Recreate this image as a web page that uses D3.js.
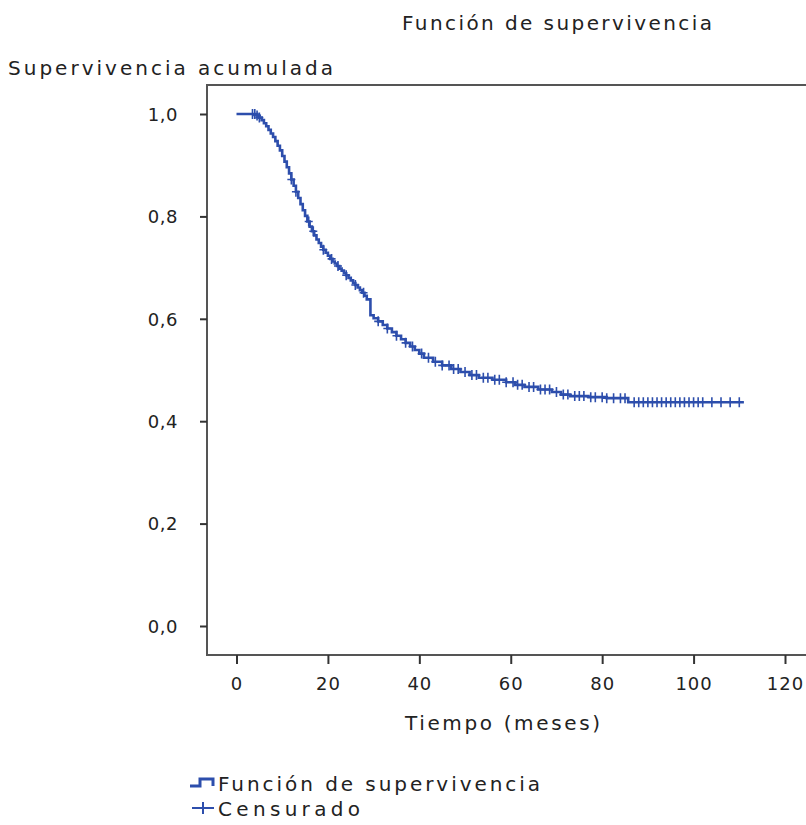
<!DOCTYPE html>
<html>
<head>
<meta charset="utf-8">
<script src="https://cdn.jsdelivr.net/npm/d3@7"></script>
<style>
  body { margin: 0; background: #fff; }
  text { font-family: "DejaVu Sans", Verdana, sans-serif; fill: #222; }
</style>
</head>
<body>
<div id="container"></div>
<script>
// Kaplan-Meier estimate (months, cumulative survival)
let timePoints = [0, 4.5, 5, 5.5, 6, 6.5, 7, 7.5, 8, 8.5, 9, 9.5, 10, 10.5, 11, 11.5, 12, 12.5, 13, 13.5,
    14, 14.5, 15, 15.5, 16, 16.5, 17, 17.5, 18, 18.5, 19, 19.5, 20, 20.5, 21, 21.5, 22, 22.5, 23, 23.5,
    24, 24.5, 25, 25.5, 26, 26.5, 27, 27.5, 28, 28.5, 29.3, 30, 31, 32, 33, 34, 35, 36, 37, 38, 39, 40,
    41, 43, 45, 47, 49, 51, 53, 56, 59, 61, 63, 66, 69, 71, 73, 77, 81, 85.7, 111];
let survival = [1.0, 0.997, 0.993, 0.988, 0.982, 0.976, 0.969, 0.962, 0.955, 0.947, 0.938, 0.929, 0.918, 0.907, 0.896, 0.884, 0.872, 0.86, 0.848, 0.836,
    0.824, 0.812, 0.801, 0.79, 0.78, 0.771, 0.763, 0.755, 0.748, 0.741, 0.735, 0.729, 0.723, 0.717, 0.712, 0.708, 0.703, 0.698, 0.694, 0.689,
    0.685, 0.68, 0.675, 0.67, 0.666, 0.661, 0.656, 0.651, 0.645, 0.638, 0.607, 0.601, 0.595, 0.588, 0.581, 0.574, 0.567, 0.56, 0.553, 0.546, 0.539, 0.532,
    0.524, 0.516, 0.509, 0.502, 0.496, 0.49, 0.485, 0.481, 0.476, 0.471, 0.467, 0.462, 0.457, 0.452, 0.449, 0.447, 0.445, 0.437, 0.437];
let censorTimes = [3.5, 4, 4.5, 5, 12, 13, 15.8, 16.8, 19, 20.8, 22.2, 24, 26, 27.8, 31, 33, 35, 37, 38.5, 40.5,
    42, 43.5, 45, 46.5, 47.5, 48.5, 50, 51.5, 52.5, 54, 55, 56.5, 57.5, 59, 60.5, 61.5, 62.5, 64, 65, 66.5, 67.5,
    68.5, 70, 71.5, 72.5, 74, 75, 76, 77.5, 78.5, 80, 81, 82.5, 84, 85, 87, 88, 89, 90, 91, 92, 93, 94, 95, 96,
    97, 98, 99, 100, 101, 102, 104, 106, 108, 110];
let xTicks = [0, 20, 40, 60, 80, 100, 120];
let yTicks = [0, 0.2, 0.4, 0.6, 0.8, 1.0];

let W = 806, H = 825;
let frame = {left: 207, top: 85, bottom: 655, right: 840};
let blue = "#2d4eac";

let svg = d3.select("#container").append("svg")
    .attr("width", W)
    .attr("height", H);

let x = d3.scaleLinear().domain([0, 120]).range([236.5, 785]);
let y = d3.scaleLinear().domain([0, 1]).range([626, 114]);

let es = d3.formatLocale({decimal: ",", thousands: ".", grouping: [3], currency: ["", "€"]});

// plot frame
svg.append("rect")
    .attr("x", frame.left)
    .attr("y", frame.top)
    .attr("width", frame.right - frame.left)
    .attr("height", frame.bottom - frame.top)
    .style("fill", "none")
    .style("stroke", "#555")
    .style("stroke-width", 2);

// y axis
let yAxis = svg.append("g")
    .attr("transform", "translate(" + frame.left + ",0)")
    .call(d3.axisLeft(y).tickValues(yTicks).tickSize(7).tickPadding(22).tickFormat(es.format(".1f")));
yAxis.select(".domain").remove();
yAxis.selectAll(".tick line").style("stroke", "#333").style("stroke-width", 2);
yAxis.selectAll(".tick text").style("font-size", "18px").style("letter-spacing", "0.5px").attr("dy", "0.35em");

// x axis
let xAxis = svg.append("g")
    .attr("transform", "translate(0," + frame.bottom + ")")
    .call(d3.axisBottom(x).tickValues(xTicks).tickSize(9).tickPadding(13));
xAxis.select(".domain").remove();
xAxis.selectAll(".tick line").style("stroke", "#333").style("stroke-width", 2);
xAxis.selectAll(".tick text").style("font-size", "18px").style("letter-spacing", "1px");

// survival curve
let line = d3.line()
    .x(function(d, i) { return x(timePoints[i]); })
    .y(function(d) { return y(d); })
    .curve(d3.curveStepAfter);

svg.append("path")
    .datum(survival)
    .attr("d", line)
    .style("fill", "none")
    .style("stroke", blue)
    .style("stroke-width", 2.6);

// censored marks
let bisect = d3.bisector(function(d) { return d; }).right;
function survAt(t) {
    let i = Math.max(0, bisect(timePoints, t) - 1);
    return survival[i];
}

let marks = svg.append("g").attr("class", "censored");
marks.selectAll("path")
    .data(censorTimes)
    .enter().append("path")
    .attr("transform", function(d) { return "translate(" + x(d) + "," + y(survAt(d)) + ")"; })
    .attr("d", "M-4,0H4M0,-5V5")
    .style("stroke", blue)
    .style("stroke-width", 1.6);

// texts
svg.append("text")
    .attr("x", 402).attr("y", 30)
    .attr("textLength", 310).attr("lengthAdjust", "spacing")
    .style("font-size", "20px")
    .text("Función de supervivencia");

svg.append("text")
    .attr("x", 8).attr("y", 75)
    .attr("textLength", 325).attr("lengthAdjust", "spacing")
    .style("font-size", "20px")
    .text("Supervivencia acumulada");

svg.append("text")
    .attr("x", 405).attr("y", 730)
    .attr("textLength", 195).attr("lengthAdjust", "spacing")
    .style("font-size", "20px")
    .text("Tiempo (meses)");

// legend
let legend = svg.append("g").attr("class", "legend");

legend.append("path")
    .attr("d", "M190,786H200V779H213V786")
    .style("fill", "none")
    .style("stroke", blue)
    .style("stroke-width", 3);
legend.append("text")
    .attr("x", 218).attr("y", 791)
    .attr("textLength", 322).attr("lengthAdjust", "spacing")
    .style("font-size", "20px")
    .text("Función de supervivencia");

legend.append("path")
    .attr("d", "M192,808H214M203,802V814")
    .style("stroke", blue)
    .style("stroke-width", 2);
legend.append("text")
    .attr("x", 218).attr("y", 816)
    .attr("textLength", 142).attr("lengthAdjust", "spacing")
    .style("font-size", "20px")
    .text("Censurado");
</script>
</body>
</html>
